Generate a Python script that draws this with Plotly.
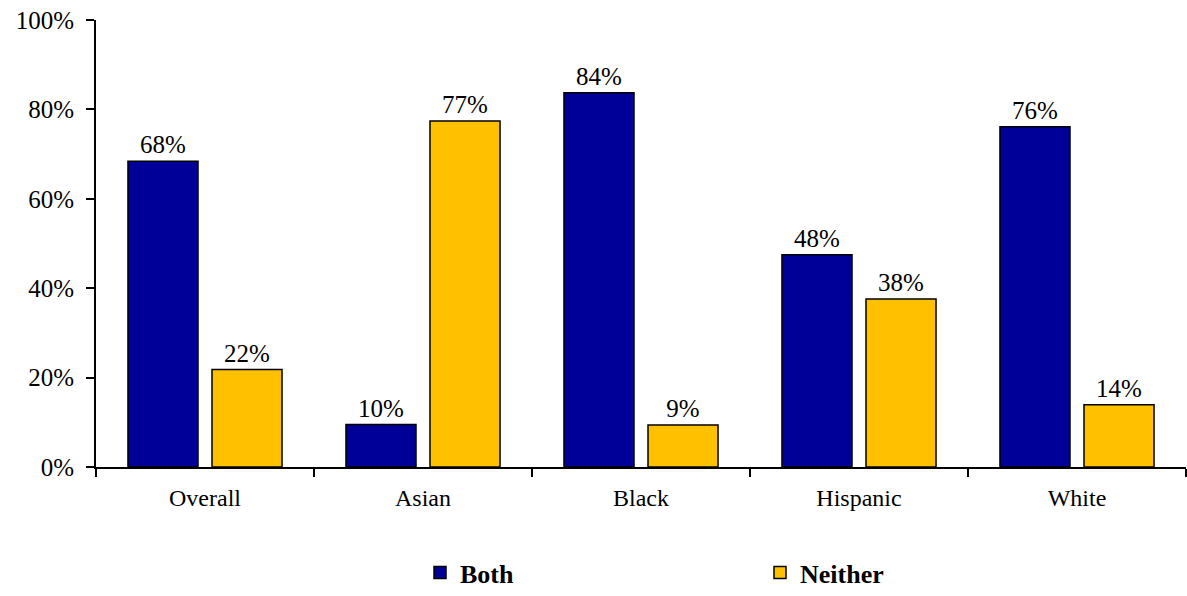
import plotly.graph_objects as go

categories = ["Overall", "Asian", "Black", "Hispanic", "White"]
both = [68.4, 9.5, 83.7, 47.5, 76.1]
neither = [21.8, 77.4, 9.4, 37.6, 13.9]
both_labels = ["68%", "10%", "84%", "48%", "76%"]
neither_labels = ["22%", "77%", "9%", "38%", "14%"]
y_ticks = [0, 20, 40, 60, 80, 100]
y_tick_labels = ["0%", "20%", "40%", "60%", "80%", "100%"]

FONT = "Times New Roman, Liberation Serif, DejaVu Serif, serif"

fig = go.Figure()
fig.add_trace(go.Bar(
    x=categories, y=both, name="Both", text=both_labels,
    textposition="outside", cliponaxis=False,
    textfont=dict(family=FONT, size=25, color="black"),
    marker=dict(color="#000099", line=dict(color="black", width=1.5)),
))
fig.add_trace(go.Bar(
    x=categories, y=neither, name="Neither", text=neither_labels,
    textposition="outside", cliponaxis=False,
    textfont=dict(family=FONT, size=25, color="black"),
    marker=dict(color="#FFC000", line=dict(color="black", width=1.5)),
))

# plot area: x 96..1186, y 20..467 (px); legend kept inside paper area
H, T, B = 596, 20, 0
paper_h = H - T - B
y_dom_bottom = (H - B - 467) / paper_h

fig.update_layout(
    width=1187, height=596,
    margin=dict(l=96, r=1, t=T, b=B),
    paper_bgcolor="white", plot_bgcolor="white",
    barmode="group", bargap=0.229, bargroupgap=0.1667,
    font=dict(family=FONT, size=25, color="black"),
    showlegend=True,
    legend=dict(
        orientation="h", x=(420 - 96) / 1090, xanchor="left",
        y=0.0, yanchor="bottom",
        entrywidth=295, entrywidthmode="pixels",
        font=dict(family=FONT, size=26, color="black", weight="bold"),
        itemwidth=30, bgcolor="rgba(0,0,0,0)",
    ),
)
fig.update_yaxes(
    domain=[y_dom_bottom, 1], automargin=False,
    range=[0, 100], tickvals=y_ticks, ticktext=y_tick_labels,
    showgrid=False, zeroline=False, showline=True, linecolor="black", linewidth=2,
    ticks="outside", ticklen=8, tickwidth=2, tickcolor="black", ticklabelstandoff=7,
    tickfont=dict(family=FONT, size=25, color="black"),
)
fig.update_xaxes(
    automargin=False,
    showgrid=False, showline=True, linecolor="black", linewidth=2,
    ticks="outside", tickson="boundaries", ticklen=8, tickwidth=2, tickcolor="black",
    ticklabelstandoff=8,
    tickfont=dict(family=FONT, size=24, color="black"),
)

fig.write_html("out.html")
